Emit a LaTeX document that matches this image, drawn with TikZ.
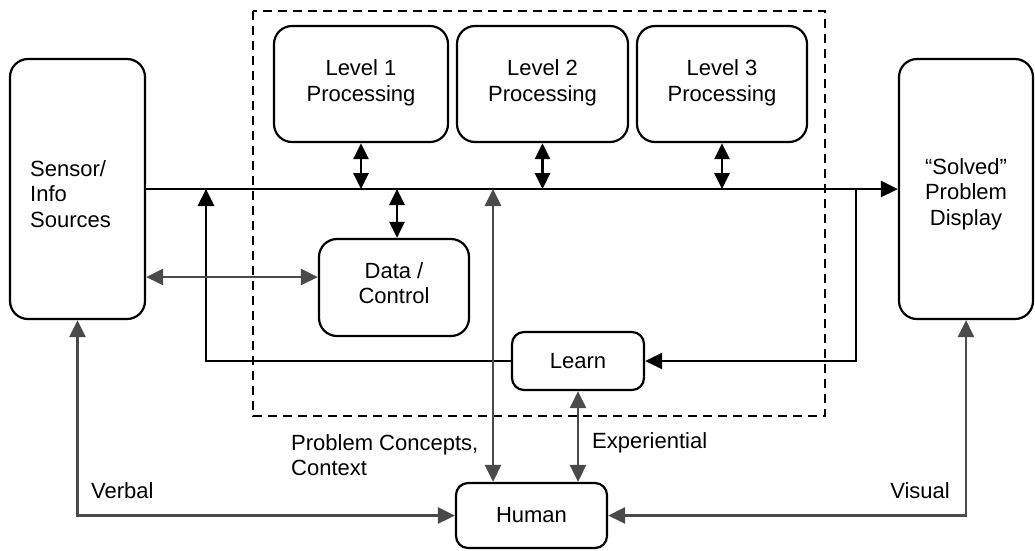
\documentclass[tikz,border=0pt]{standalone}
\usepackage{fontspec}
\setmainfont{Liberation Sans}
\usetikzlibrary{arrows.meta}
\definecolor{lgray}{HTML}{4A4A4A}
\tikzset{
  box/.style={draw=black, line width=2.2pt, rounded corners=18pt, inner sep=0pt, align=center},
  sbox/.style={draw=black, line width=2.2pt, rounded corners=12pt, inner sep=0pt, align=center},
  blk/.style={draw=black, line width=2.8pt, -{Triangle[length=17pt,width=16pt]}},
  blkdbl/.style={draw=black, line width=2.8pt, {Triangle[length=16pt,width=15pt]}-{Triangle[length=16pt,width=15pt]}},
  gry/.style={draw=lgray, line width=2.8pt, {Triangle[length=17pt,width=16pt]}-{Triangle[length=17pt,width=16pt]}},
  lbl/.style={inner sep=0pt, align=left},
  every node/.style={font=\fontsize{22}{25.5}\selectfont}
}
\begin{document}
\begin{tikzpicture}[x=1pt,y=-1pt]
\useasboundingbox (0,0) rectangle (1035,550);
% dashed frame
\draw[line width=2.8pt, dash pattern=on 9pt off 6pt] (253,11) rectangle (825,416);
% boxes
\node[box, minimum width=135pt, minimum height=260pt] (sensor) at (77.5,189) {};
\node[lbl, anchor=west] (sensortxt) at (30,194) {Sensor/\\Info\\Sources};
\node[box, minimum width=134pt, minimum height=260pt] (solved) at (966,189) {};
\node[align=center, inner sep=0pt] (solvedtxt) at (966,194) {“Solved”\\Problem\\Display};
\node[box, minimum width=174pt, minimum height=116pt] (l1) at (361,84) {};
\node[align=center, inner sep=0pt] (l1txt) at (361,83) {Level 1\\Processing};
\node[box, minimum width=171pt, minimum height=116pt] (l2) at (542.5,84) {};
\node[align=center, inner sep=0pt] (l2txt) at (542.5,83) {Level 2\\Processing};
\node[box, minimum width=170pt, minimum height=116pt] (l3) at (722,84) {};
\node[align=center, inner sep=0pt] (l3txt) at (722,83) {Level 3\\Processing};
\node[box, minimum width=150pt, minimum height=97pt] (data) at (394,287.5) {};
\node[align=center, inner sep=0pt] (datatxt) at (394,283) {Data /\\Control};
\node[sbox, minimum width=132pt, minimum height=58pt] (learn) at (578,361) {Learn};
\node[sbox, minimum width=151pt, minimum height=65pt] (human) at (531.5,515.5) {Human};
% coordinates
\coordinate (fbL) at (206,189);
\coordinate (fbR) at (856,189);
\coordinate (pc) at (493,189);
\coordinate (dc) at (397,189);
\coordinate (sd) at (0,277);
% main line
\draw[blk] (sensor.east) -- (solved.west);
\draw[blkdbl] (l1.south) -- (l1.south |- sensor.east);
\draw[blkdbl] (l2.south) -- (l2.south |- sensor.east);
\draw[blkdbl] (l3.south) -- (l3.south |- sensor.east);
\draw[blkdbl] (data.north -| dc) -- (dc);
% feedback
\draw[blk] (learn.west) -| (fbL);
\draw[blk] (fbR) |- (learn.east);
% gray
\draw[gry] (sensor.east |- sd) -- (data.west |- sd);
\draw[gry] (pc) -- (pc |- human.north);
\draw[gry] (learn.south) -- (learn.south |- human.north);
\draw[gry] (sensor.south) |- (human.west);
\draw[gry] (solved.south) |- (human.east);
% labels
\node[lbl, anchor=west] (verbal) at (91,491) {Verbal};
\node[lbl, anchor=north west] (pctxt) at (291,434) {Problem Concepts,\\Context};
\node[lbl, anchor=west] (exp) at (592,443) {Experiential};
\node[lbl, anchor=east] (visual) at (950,491) {Visual};
\end{tikzpicture}
\end{document}
